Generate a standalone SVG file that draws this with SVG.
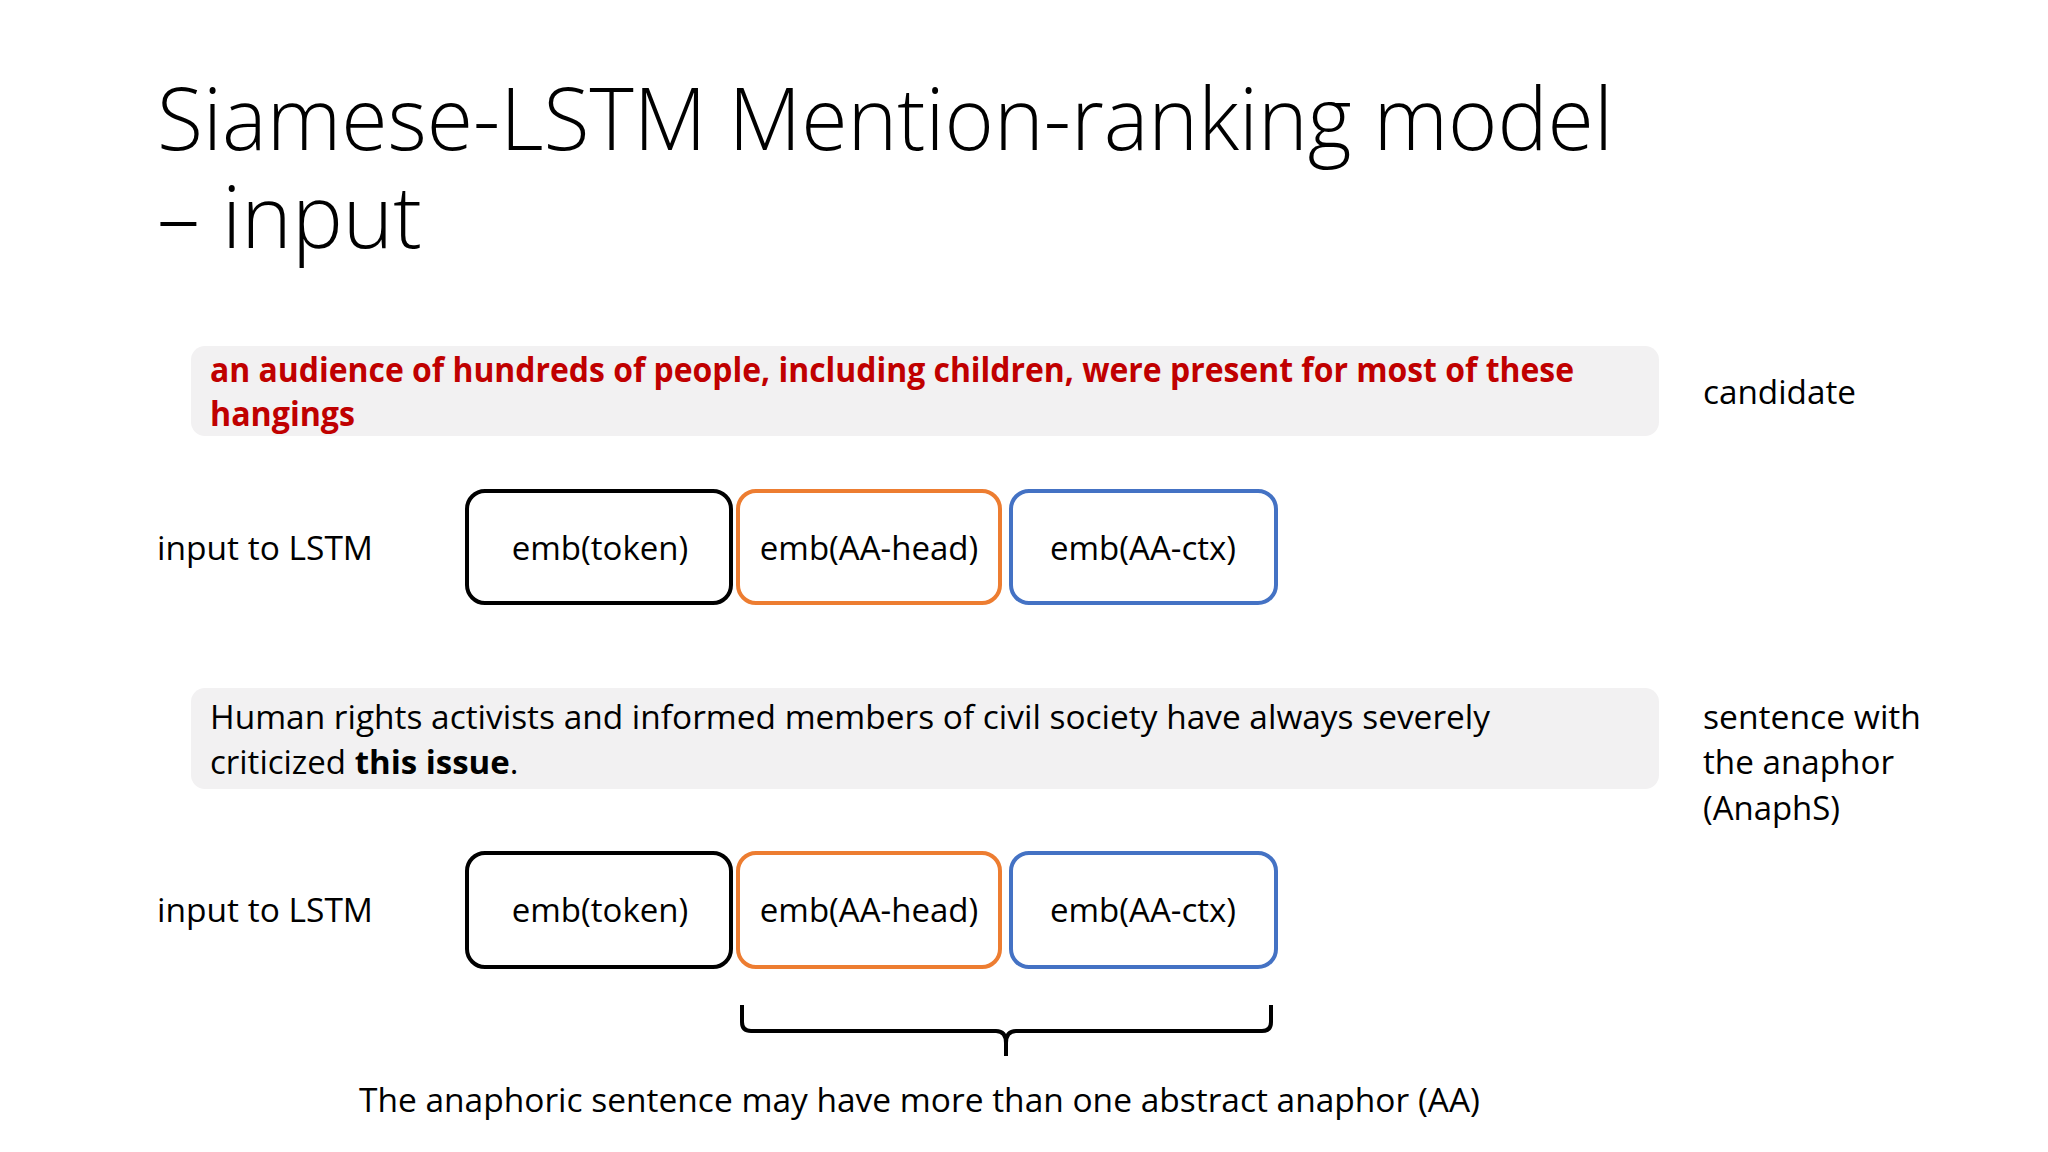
<svg xmlns="http://www.w3.org/2000/svg" width="2048" height="1152" viewBox="0 0 2048 1152">
<style>
text{font-family:"Open Sans","Noto Sans","Liberation Sans",sans-serif;fill:#000}
.title{font-size:86px;font-weight:300}
.body{font-size:33px}
.red{font-size:34px;font-weight:700;fill:#c00000}
.lbl{font-size:33px;text-anchor:middle}
.band{fill:#f2f1f2}
.box{fill:#fff;stroke-width:4}
.k{stroke:#000}
.o{stroke:#ed7d31}
.b{stroke:#4472c4}
.brace{fill:none;stroke:#000;stroke-width:4;stroke-linejoin:round}
</style>
<rect width="2048" height="1152" fill="#fff"/>
<g id="title">
<text class="title" x="157" y="150" textLength="1456" lengthAdjust="spacingAndGlyphs">Siamese-LSTM Mention-ranking model</text>
<text class="title" x="157" y="248" textLength="265" lengthAdjust="spacingAndGlyphs">– input</text>
</g>
<g id="candidate-sentence">
<rect class="band" x="191" y="346" width="1468" height="90" rx="14"/>
<text class="red" x="210" y="382" textLength="1364" lengthAdjust="spacingAndGlyphs">an audience of hundreds of people, including children, were present for most of these</text>
<text class="red" x="210" y="426" textLength="145" lengthAdjust="spacingAndGlyphs">hangings</text>
</g>
<g id="candidate-label">
<text class="body" x="1703" y="404" textLength="153" lengthAdjust="spacingAndGlyphs">candidate</text>
</g>
<g id="input-label-1">
<text class="body" x="157" y="560" textLength="216" lengthAdjust="spacingAndGlyphs">input  to LSTM</text>
</g>
<g id="emb-token-1">
<rect class="box k" x="467" y="491" width="264" height="112" rx="18"/>
<text class="lbl" x="600" y="560">emb(token)</text>
</g>
<g id="emb-aa-head-1">
<rect class="box o" x="738" y="491" width="262" height="112" rx="18"/>
<text class="lbl" x="869" y="560">emb(AA-head)</text>
</g>
<g id="emb-aa-ctx-1">
<rect class="box b" x="1011" y="491" width="265" height="112" rx="18"/>
<text class="lbl" x="1143" y="560">emb(AA-ctx)</text>
</g>
<g id="anaphor-sentence">
<rect class="band" x="191" y="688" width="1468" height="101" rx="14"/>
<text class="body" x="210" y="729" textLength="1280" lengthAdjust="spacingAndGlyphs">Human rights  activists and informed  members  of civil society have always severely</text>
<text class="body" x="210" y="774">criticized <tspan font-weight="700">this issue</tspan>.</text>
</g>
<g id="anaphor-label">
<text class="body" x="1703" y="729" textLength="218" lengthAdjust="spacingAndGlyphs">sentence with</text>
<text class="body" x="1703" y="774" textLength="191" lengthAdjust="spacingAndGlyphs">the anaphor</text>
<text class="body" x="1703" y="820" textLength="137" lengthAdjust="spacingAndGlyphs">(AnaphS)</text>
</g>
<g id="input-label-2">
<text class="body" x="157" y="922" textLength="216" lengthAdjust="spacingAndGlyphs">input  to LSTM</text>
</g>
<g id="emb-token-2">
<rect class="box k" x="467" y="853" width="264" height="114" rx="18"/>
<text class="lbl" x="600" y="922">emb(token)</text>
</g>
<g id="emb-aa-head-2">
<rect class="box o" x="738" y="853" width="262" height="114" rx="18"/>
<text class="lbl" x="869" y="922">emb(AA-head)</text>
</g>
<g id="emb-aa-ctx-2">
<rect class="box b" x="1011" y="853" width="265" height="114" rx="18"/>
<text class="lbl" x="1143" y="922">emb(AA-ctx)</text>
</g>
<g id="connectors">
<path class="brace" d="M742,1005 V1022 Q742,1031 751,1031 H996 Q1006,1031 1006,1043 V1056 M1006,1043 Q1006,1031 1016,1031 H1262 Q1271,1031 1271,1022 V1005"/>
</g>
<g id="footnote">
<text class="body" x="359" y="1112" textLength="1121" lengthAdjust="spacingAndGlyphs">The anaphoric  sentence may have more than one abstract anaphor  (AA)</text>
</g>
</svg>
